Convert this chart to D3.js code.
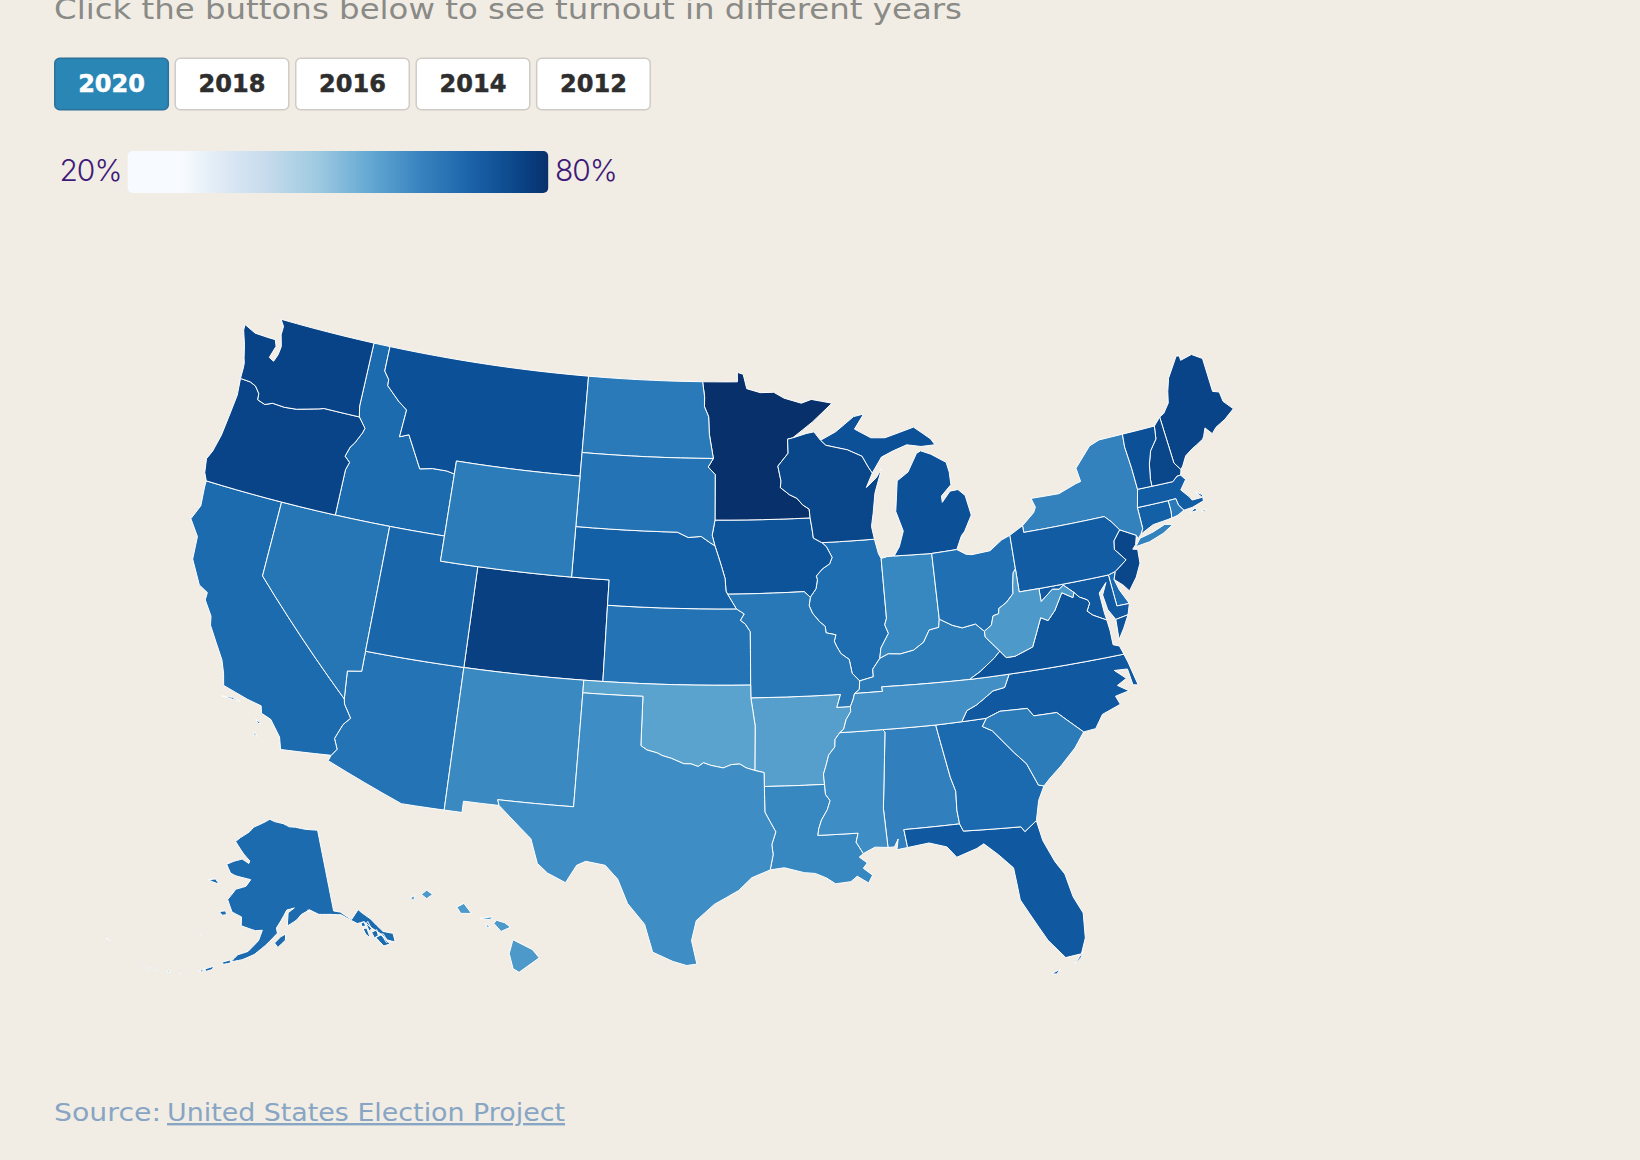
<!DOCTYPE html>
<html><head><meta charset="utf-8">
<script src="https://cdn.jsdelivr.net/npm/d3@7"></script>
<style>
html,body{margin:0;padding:0;background:#f1ede5;overflow:hidden}
svg{display:block}
</style></head><body>
<svg id="c" width="1640" height="1160"></svg>
<script>
// ---- text and categories ----
const years = ["2020","2018","2016","2014","2012"];
const legendLabels = ["20%","80%"];
const turnoutDomain = [20,80];
const legendStops = [[0,"#f7fbff"],[0.13,"#f7fbff"],[0.22,"#dfeaf5"],[0.33,"#c6dbec"],[0.45,"#9fcae1"],[0.57,"#66aad4"],[0.69,"#3a85c0"],[0.82,"#1a62a8"],[0.94,"#0a4285"],[1,"#08306b"]];

// ---- 2020 turnout (% of eligible voters) ----
const stateCodes = ["AL","AK","AZ","AR","CA","CO","CT","DE","DC","FL","GA","HI","ID","IL","IN","IA","KS","KY","LA","ME","MD","MA","MI","MN","MS","MO","MT","NE","NV","NH","NJ","NM","NY","NC","ND","OH","OK","OR","PA","RI","SC","SD","TN","TX","UT","VT","VA","WA","WV","WI","WY"];
const turnout2020 = [61.5,66.5,64.5,54,66.5,76.4,69,67,64,70.5,67,55.5,66.5,66,60,72,64.5,62.5,60,75.5,70.5,70,72.5,79.96,58.5,63.5,72.5,69,64,75,75,59.5,61,70.5,63,65.5,53,75.5,70,63,62.5,64.5,58,58.5,67.7,72.5,72,75.6,55.5,75,62.5];

// ---- shared borders: flat lon,lat lists ----
const COLUMBIA=[-118.98,46,-119.3,45.93,-120.5,45.7,-121.2,45.65,-121.9,45.68,-122.3,45.55,-122.76,45.65,-122.8,45.9,-123.1,46.15,-123.45,46.25,-124.05,46.27];
const SNAKE=[-117.03,43.83,-116.9,44.15,-117.22,44.35,-117.05,44.75,-116.85,44.95,-116.55,45.4,-116.47,45.6,-116.92,45.995];
const BITTERROOT=[-116.05,48,-115.72,47.7,-115.7,47.45,-114.9,46.93,-114.35,46.65,-114.45,45.55,-113.95,45.7,-113.45,45.05,-113,44.45,-112.3,44.55,-111.5,44.55,-111.05,44.48];
const RED_N=[-97.23,49,-97.1,48.4,-97.1,48,-96.85,47.6,-96.8,46.9,-96.56,45.94];
const SD_MN=[-96.56,45.94,-96.85,45.6,-96.45,45.3,-96.45,43.5];
const SD_IA=[-96.45,43.5,-96.6,42.9,-96.45,42.49];
const NE_SD=[-96.45,42.49,-96.7,42.6,-97.2,42.85,-97.9,42.8,-98.5,43];
const MO_NE_IA=[-96.45,42.49,-96.25,42.05,-96.1,41.7,-95.9,41.2,-95.85,40.7,-95.77,40.58];
const MO_NE=[-95.77,40.58,-95.31,40];
const MO_KS=[-95.31,40,-94.9,39.8,-95.1,39.55,-94.85,39.4,-94.6,39.1,-94.62,37];
const M_WI_MN=[-92.75,45,-92.8,44.75,-92.3,44.45,-91.9,44.3,-91.6,44.03,-91.25,43.85,-91.22,43.5];
const M_IA_WI=[-91.22,43.5,-91.15,43.1,-91.1,42.7,-90.65,42.5];
const M_IA_IL=[-90.65,42.5,-90.42,42.33,-90.15,41.9,-90.3,41.65,-90.7,41.47,-91.05,41.2,-91,41.05,-91.1,40.7,-91.42,40.38];
const M_MO_IL=[-91.42,40.38,-91.5,40.05,-91.35,39.75,-91,39.4,-90.72,39.2,-90.7,38.95,-90.2,38.85,-90.3,38.6,-90.2,38.4,-90,38.1,-89.6,37.85,-89.5,37.3,-89.15,36.98];
const M_MO_KY=[-89.15,36.98,-89.2,36.65,-89.45,36.5];
const M_MO_TN=[-89.45,36.5,-89.55,36.25,-89.7,36];
const M_AR_TN=[-89.7,36,-89.7,35.8,-89.95,35.5,-90.1,35.13,-90.3,35];
const M_AR_MS=[-90.3,35,-90.55,34.75,-90.58,34.45,-90.9,34.15,-91.05,33.75,-91.2,33.4,-91.17,33];
const M_LA_MS=[-91.17,33,-91.15,32.6,-90.95,32.35,-91.1,32,-91.4,31.6,-91.55,31.25,-91.6,31];
const O_WV_OH=[-80.52,40.64,-80.67,40.5,-80.8,40,-80.85,39.7,-81.25,39.4,-81.7,39.2,-81.75,39,-82.05,38.95,-82.2,38.6,-82.6,38.4];
const O_KY_OH=[-82.6,38.4,-82.85,38.6,-83,38.73,-83.7,38.65,-84.2,38.8,-84.82,39.1];
const O_KY_IN=[-84.82,39.1,-84.9,38.78,-85.4,38.72,-85.75,38.27,-86.3,38,-87,37.9,-87.6,37.95,-88.05,37.8];
const O_KY_IL=[-88.05,37.8,-88.45,37.4,-88.45,37.1,-89.15,36.98];
const WABASH=[-87.53,41.71,-87.53,39.35,-87.65,39.1,-87.5,38.75,-87.95,38.2,-88.05,37.8];
const RED_TX=[-94.48,33.64,-94.9,33.75,-95.2,33.9,-95.6,33.88,-96,33.75,-96.6,33.85,-96.95,33.95,-97.2,33.8,-97.55,33.9,-97.9,33.9,-98.5,34.1,-98.95,34.2,-99.2,34.3,-99.7,34.4,-100,34.56];
const SABINE=[-94.04,31.99,-93.8,31.6,-93.55,31.2,-93.75,30.7,-93.7,30.3,-93.85,29.7];
const CA_AZ=[-114.63,35,-114.57,34.8,-114.15,34.3,-114.45,34,-114.72,33.4,-114.5,33,-114.72,32.72];
const CHATT=[-85.6,34.98,-85.18,32.87,-85,32.3,-85.05,31.55,-85,31];
const SAVANNAH=[-83.1,35,-83.35,34.7,-82.9,34.48,-82,33.5,-81.5,33,-81.1,32.1,-80.85,32.03];
const GA_FL=[-85,31,-84.86,30.7,-82.2,30.57,-82.05,30.36,-81.45,30.72];
const NC_SC=[-83.1,35,-82.4,35.2,-81.05,35.15,-80.8,34.82,-79.67,34.8,-78.55,33.86];
const NC_TN=[-84.32,34.99,-84,35.4,-83.5,35.57,-83.1,35.77,-82.6,36.03,-82,36.1,-81.68,36.59];
const KY_VA=[-83.68,36.6,-83.1,36.85,-82.3,37.3,-81.97,37.54];
const KY_WV=[-81.97,37.54,-82.6,38.17,-82.6,38.4];
const VA_WV=[-81.97,37.54,-81.7,37.25,-81.25,37.25,-80.3,37.5,-79.65,38.58,-79.3,38.42,-78.87,38.76,-78.35,39.4,-77.83,39.13,-77.73,39.32];
const POTOMAC=[-76.35,38,-77,38.3,-77.25,38.5,-77.04,38.79,-77.12,38.93,-77.5,39.1,-77.73,39.32];
const MD_WV=[-77.73,39.32,-78.2,39.68,-78.45,39.55,-78.8,39.6,-79.48,39.2,-79.48,39.72];
const NJ_PA=[-74.7,41.36,-75.13,40.98,-75.2,40.65,-74.72,40.15,-75.4,39.8];
const NY_PA=[-79.76,42,-75.35,42,-75.05,41.75,-74.7,41.36];
const VT_NH=[-71.5,45.01,-71.6,44.5,-72.05,44.1,-72.3,43.6,-72.45,43,-72.46,42.73];
const NY_VT=[-73.35,45.01,-73.4,44.5,-73.3,43.6,-73.26,42.75];
const MI_WI=[-90.4,46.55,-90.12,46.34,-89.1,46.14,-88.9,46.1,-88.1,45.8,-87.8,45.35,-87.6,45.1];

// ---- states: flat lon,lat rings, built from the borders above ----
const rev = a => { const o=[]; for(let i=a.length-2;i>=0;i-=2) o.push(a[i],a[i+1]); return o; };
const WA=[[-122.76,49,-117.03,49,-117.04,46.42,-116.92,45.995,...COLUMBIA,-124.07,46.7,-124.1,46.9,-124.2,47.1,-124.4,47.6,-124.7,48.15,-124.72,48.38,-124,48.17,-123.2,48.15,-122.75,48.15,-122.6,47.9,-122.8,47.4,-122.5,47.3,-122.35,47.6,-122.3,47.95,-122.5,48.4,-122.5,48.75]];
const OR=[[...rev(COLUMBIA),-116.92,45.995,...rev(SNAKE),-117.03,42,-120,42,-124.21,42,-124.42,42.3,-124.55,42.84,-124.35,43.2,-124.15,43.9,-124.05,44.7,-123.95,45.6]];
const ID=[[-117.03,49,-116.05,49,...BITTERROOT,-111.05,42,-114.04,42,-117.03,42,...SNAKE,-117.04,46.42]];
const MT=[[-116.05,49,-104.05,49,-104.05,45.94,-104.05,45,-111.05,45,...rev(BITTERROOT)]];
const WY=[[-111.05,45,-104.05,45,-104.05,43,-104.05,41,-111.05,41]];
const ND=[[-104.05,49,...RED_N,-104.05,45.94]];
const SD=[[-104.05,45.94,...SD_MN,...SD_IA,...NE_SD,-104.05,43]];
const NE=[[-104.05,43,...rev(NE_SD),...MO_NE_IA,...MO_NE,-102.05,40,-102.05,41,-104.05,41]];
const KS=[[-102.05,40,...MO_KS,-102.04,37]];
const CO=[[-109.05,41,-104.05,41,-102.05,41,-102.05,40,-102.04,37,-103,37,-109.05,37]];
const UT=[[-114.04,42,-111.05,42,-111.05,41,-109.05,41,-109.05,37,-114.05,37]];
const NV=[[-120,42,-114.04,42,-114.05,37,-114.05,36.2,-114.75,36.1,-114.63,35,-120,39]];
const CA=[[-124.21,42,-120,42,-120,39,...CA_AZ,-117.12,32.53,-117.3,33,-117.9,33.6,-118.4,33.75,-118.5,34.03,-119.2,34.15,-120.5,34.45,-120.65,34.9,-120.9,35.4,-121.9,36.6,-122,36.95,-122.5,37.5,-122.5,37.8,-123,38,-123.7,38.9,-123.8,39.8,-124.4,40.4,-124.1,41,-124.2,41.75],
 [-120.45,34.03,-119.95,34.08,-119.55,34],[-118.6,33.48,-118.3,33.35,-118.45,33.33],[-118.55,32.98,-118.35,32.82,-118.5,32.85]];
const AZ=[[-114.05,37,-109.05,37,-109.05,31.33,-111.07,31.33,-114.81,32.49,...rev(CA_AZ),-114.75,36.1,-114.05,36.2]];
const NM=[[-109.05,37,-103,37,-103,36.5,-103.04,32,-106.62,32,-106.53,31.78,-108.21,31.78,-108.21,31.33,-109.05,31.33]];
const OK=[[-103,37,-94.62,37,-94.62,36.5,-94.43,35.4,...RED_TX,-100,36.5,-103,36.5]];
const TX=[[-103,36.5,-100,36.5,...rev(RED_TX),-94.04,33.55,-94.04,33,...SABINE,-94.7,29.4,-95.3,28.9,-96.4,28.35,-97.2,27.7,-97.4,26.9,-97.15,25.96,-97.6,25.9,-98.2,26.05,-99.1,26.4,-99.5,27.5,-100.3,28.3,-100.8,29.25,-101.4,29.77,-102.3,29.88,-102.7,29.7,-103.15,28.98,-104,29.3,-104.5,29.65,-104.9,30.6,-106,31.4,-106.53,31.78,-106.62,32,-103.04,32]];
const MN=[[...RED_N.slice(0,2),-95.15,49,-95.15,49.38,-94.8,49.3,-94.6,48.72,-93.8,48.55,-93,48.55,-92.4,48.3,-91.4,48.07,-90.8,48.2,-89.6,48,-90.8,47.3,-92,46.7,-92.29,46.66,-92.29,46.1,-92.9,45.6,...M_WI_MN,-96.45,43.5,...rev(SD_MN),...rev(RED_N).slice(2,-2)]];
const IA=[[-96.45,43.5,...M_IA_WI,...M_IA_IL,-91.73,40.61,-95.77,40.58,...rev(MO_NE_IA),...rev(SD_IA)]];
const MO=[[-95.77,40.58,-91.73,40.61,...M_MO_IL,...M_MO_KY,...M_MO_TN,-90.37,36,-90.15,36.5,-94.62,36.5,-94.62,37,...rev(MO_KS),...rev(MO_NE)]];
const AR=[[-94.62,36.5,-90.15,36.5,-90.37,36,...M_AR_TN,...M_AR_MS,-94.04,33,-94.04,33.55,-94.48,33.64,-94.43,35.4]];
const LA=[[-94.04,33,...M_LA_MS,-89.73,31,-89.85,30.65,-89.55,30.18,-89.75,30.05,-89.4,29.8,-89.6,29.6,-89.2,29.3,-89.4,29,-89.9,29.3,-90.2,29.1,-90.9,29.05,-91.3,29.3,-91.8,29.5,-92.3,29.55,-93.2,29.77,...rev(SABINE)]];
const MS=[[...M_AR_MS,...M_LA_MS,-89.73,31,-89.85,30.65,-89.55,30.18,-89,30.4,-88.4,30.35,-88.47,31.9,-88.1,34.9,-88.2,35]];
const AL=[[-88.2,35,...CHATT,-87.6,31,-87.5,30.28,-88,30.23,-87.9,30.65,-88.1,30.35,-88.4,30.35,-88.47,31.9,-88.1,34.9]];
const GA=[[...CHATT,-84.86,30.7,-82.2,30.57,-82.05,30.36,-81.45,30.72,-81.2,31.5,...rev(SAVANNAH)]];
const FL=[[-87.6,31,...GA_FL,-81.3,29.9,-80.9,29,-80.55,28.45,-80.35,27.5,-80.03,26.8,-80.12,25.8,-80.4,25.2,-81.1,25.15,-81.75,25.95,-82.05,26.5,-82.7,27.7,-82.75,28.4,-82.8,29,-83.4,29.6,-84,30.1,-84.35,29.95,-85.3,29.7,-85.7,30.15,-86.5,30.38,-87.5,30.28],
 [-81.8,24.6,-81.4,24.72,-81.6,24.55],[-80.75,24.85,-80.3,25.3,-80.45,25.05]];
const SC=[[...NC_SC,-79.1,33.3,-79.9,32.7,-80.5,32.3,...rev(SAVANNAH)]];
const NC=[[...NC_TN.slice(0,2),-83.1,35,...NC_SC.slice(2),-77.95,33.9,-77.5,34.4,-76.55,34.65,-76.7,35,-76,35.1,-76.5,35.4,-76,35.6,-76.5,36,-75.85,35.95,-75.75,35.3,-75.5,35.25,-75.75,36.2,-75.87,36.55,-81.68,36.59,...rev(NC_TN).slice(2,-2)]];
const TN=[[-90.3,35,-88.2,35,-85.6,34.98,-84.32,34.99,...NC_TN.slice(2),-83.68,36.6,-88.07,36.68,-88.05,36.5,-89.45,36.5,...M_MO_TN,...M_AR_TN]];
const KY=[[-89.45,36.5,-88.05,36.5,-88.07,36.68,...KY_VA,...KY_WV,...O_KY_OH,...O_KY_IN,...O_KY_IL,...M_MO_KY]];
const IL=[[...rev(M_IA_IL),-87.8,42.49,-87.65,41.9,...WABASH,...O_KY_IL,...rev(M_MO_IL)]];
const IN=[[-87.53,41.71,-87.2,41.76,-86.82,41.76,-84.81,41.7,...O_KY_IN,...rev(WABASH).slice(0,-2)]];
const OH=[[-84.81,41.7,-83.45,41.73,-83,41.5,-82.7,41.45,-81.7,41.5,-81,41.85,-80.52,41.98,...O_WV_OH,...O_KY_OH]];
const MI=[[-86.82,41.76,-86.5,42.1,-86.2,42.7,-86.5,43.5,-86.25,44.7,-85.6,45,-85,45.7,-84.75,45.78,-84.2,45.6,-83.4,45.2,-83.3,44.8,-83.3,44.3,-83.9,43.9,-83.9,43.65,-83.4,44.05,-82.95,44.07,-82.6,43.8,-82.42,43,-82.9,42.4,-83.1,42.25,-83.45,41.73,-84.81,41.7],
 [...MI_WI,-87,45.7,-86.3,45.9,-85.5,46.08,-84.7,45.95,-83.9,45.95,-84.1,46.2,-84.5,46.45,-85,46.75,-86.7,46.45,-87.5,46.5,-88.4,46.9,-87.8,47.47,-88.4,47.4,-89.5,46.85]];
const WI=[[-92.29,46.66,-92,46.7,-91.2,46.85,-90.75,46.9,...MI_WI,-88,44.55,-87.4,44.9,-87.05,45.25,-87.55,44.3,-87.75,43.5,-87.9,43,-87.8,42.49,...rev(M_IA_WI),...rev(M_WI_MN),-92.9,45.6,-92.29,46.1]];
const PA=[[-80.52,41.98,-79.76,42.27,...NY_PA,...NJ_PA,-75.79,39.72,-79.48,39.72,-80.52,39.72,-80.52,40.64]];
const NY=[[-79.76,42.27,-79.05,42.7,-78.9,42.9,-79.05,43.27,-77.5,43.25,-76.5,43.5,-76.2,43.55,-76.3,44.1,-75.3,44.85,-74.7,45,...NY_VT,-73.5,42.05,-73.49,41.2,-73.65,41,-73.85,40.85,-73.9,41,...rev(NY_PA)],
 [-74.03,40.6,-73.75,40.85,-73,40.97,-72.3,41.15,-71.87,41.07,-72.5,40.82,-73.3,40.63,-74.03,40.57]];
const NJ=[[-73.9,41,...NJ_PA,-75.55,39.5,-75.15,39.2,-74.9,38.93,-74.4,39.4,-74.05,39.9,-74,40.45,-74.25,40.5,-74.05,40.65]];
const DE=[[-75.79,39.72,-75.4,39.8,-75.55,39.5,-75.4,39.05,-75.05,38.45,-75.7,38.46]];
const MD=[[-79.48,39.72,-75.79,39.72,-75.7,38.46,-75.05,38.45,-75.24,38.03,-75.9,37.95,-76.2,38.4,-76.3,39,-76,39.45,-76.45,39.1,-76.4,38.3,...POTOMAC,...MD_WV.slice(2)]];
const DC=[[-77.12,38.93,-77.04,38.99,-76.91,38.89,-77.04,38.79]];
const VA=[[-83.68,36.6,-81.68,36.59,-75.87,36.55,-76,36.9,-76.3,37,-76.3,37.55,...POTOMAC,...rev(VA_WV),...rev(KY_VA).slice(2)],
 [-75.24,38.03,-75.9,37.95,-75.95,37.15,-75.6,37.55]];
const WV=[[-80.52,40.64,-80.52,39.72,-79.48,39.72,...rev(MD_WV).slice(2),...rev(VA_WV).slice(2),...KY_WV.slice(2),...rev(O_WV_OH).slice(2,-2)]];
const CT=[[-73.5,42.05,-71.8,42.02,-71.79,41.6,-71.85,41.32,-72.9,41.25,-73.65,41,-73.49,41.2]];
const RI=[[-71.8,42.02,-71.38,42.02,-71.33,41.75,-71.12,41.5,-71.5,41.37,-71.85,41.32,-71.79,41.6]];
const MA=[[-73.5,42.05,-73.26,42.75,-72.46,42.73,-71.3,42.7,-71,42.87,-70.8,42.87,-70.6,42.65,-71,42.3,-70.65,41.95,-70.55,41.8,-70,41.8,-70.25,42.07,-69.95,41.9,-69.98,41.65,-70.65,41.52,-71.12,41.5,-71.33,41.75,-71.38,42.02,-71.8,42.02],
 [-70.83,41.35,-70.5,41.47,-70.45,41.35],[-70.25,41.3,-69.97,41.3,-70.1,41.24]];
const VT=[[...NY_VT,...rev(VT_NH)]];
const NH=[[...VT_NH.slice(0,2),-71.08,45.3,-70.98,43.4,-70.7,43.07,-70.8,42.87,-71,42.87,-71.3,42.7,...rev(VT_NH).slice(0,-2)]];
const ME=[[-71.08,45.3,-70.8,45.4,-70.4,45.75,-70.25,46.2,-70,46.7,-69.23,47.46,-69.05,47.43,-69.05,47.25,-68.35,47.35,-67.8,47.07,-67.8,45.7,-67.45,45.6,-67.4,45.2,-66.97,44.8,-67.6,44.5,-67.9,44.4,-68.2,44.3,-68.5,44.1,-68.8,44.4,-69,44.1,-69.1,44,-69.5,43.85,-69.8,43.75,-70.25,43.55,-70.55,43.2,-70.7,43.07,-70.98,43.4]];
const AK=[[-156.6,71.35,-155,71.1,-152,70.85,-150,70.45,-148,70.35,-145,70,-141,69.65,-141,60.3,-139.5,60,-137.5,58.9,-135.5,59.8,-135,59.4,-133.5,58.4,-131.8,56.6,-130,56,-130.2,55,-131.5,55.5,-132.5,56.5,-134,57.5,-135,58.3,-136.5,58.3,-139.5,59.7,-142,60,-144.5,60.2,-146.5,60.85,-148.5,60.4,-149.7,59.8,-151.8,59.2,-151.5,60.7,-150,61.2,-151.8,61,-153.2,59.8,-154.2,59,-154,58.4,-156.5,57,-158.7,55.9,-161,55.2,-163.2,54.8,-162,55.7,-160,56.2,-158,57.5,-157.3,58.7,-158.8,58.6,-162,59,-162.2,60,-164.5,60.4,-165.3,61.1,-166,61.7,-164.8,62.7,-164.5,63,-162,63.5,-161,64.3,-162.8,64.4,-165,64.5,-166.5,64.7,-168,65.6,-166.2,66.1,-164,66.5,-162,66.1,-161.8,66.4,-163.8,67.1,-166.8,68.35,-165.5,68.9,-163,69.7,-161.8,70.3,-159,70.85],
 [-154.6,57.3,-153.3,58,-152.2,58.3,-152.3,57.6,-153.9,56.8],[-171.7,63.4,-170,63.7,-168.8,63.2,-170.5,63.3],[-167.4,60.2,-166,60.4,-165.6,60,-166.6,59.85],
 [-164.9,54.6,-163.4,55,-163.1,54.7,-164.5,54.4],[-167.9,53.5,-166.3,54,-166.5,53.6,-167.6,53.25],[-169,53.1,-167.9,53.5,-168.4,53.1],[-174.6,52.2,-173.9,52.2,-174.4,52],[-177,51.95,-176.4,51.9,-176.8,51.7],[-178.2,51.9,-177.6,51.9,-177.9,51.7],[-170.4,57.2,-170.1,57.25,-170.2,57.1],[-146.9,60.85,-146.3,60.7,-146.7,60.6],
 [173,52.95,173.4,52.85,172.6,52.8],[-172.5,52.35,-172.1,52.3,-172.4,52.2],[-179.2,51.9,-178.8,51.85,-179.1,51.7],
 [-135.7,58.2,-135,58.3,-134.9,57.8,-135.7,57.8],[-135.6,57.6,-134.8,57.5,-134.7,56.3,-135.4,56.9],[-134.7,58,-134.2,58.2,-133.9,57.3,-134.5,57.1],[-134.1,56.9,-132.9,57,-133,56.3,-133.9,56.2],[-133.6,56.2,-132.4,56.3,-131.3,55,-132.6,55],[-132.3,56.4,-131.9,56.3,-131.6,55.3,-131.9,55.3]];
const HI=[[-155.9,20.25,-155.08,19.85,-154.8,19.52,-155.65,18.95,-155.9,19.1,-156.06,19.7],[-156.7,20.9,-156.6,21.03,-156.25,20.93,-156,20.75,-156.4,20.58],[-157.3,21.1,-156.75,21.17,-156.87,21.05],[-157.05,20.9,-156.85,20.75,-157,20.75],[-158.27,21.55,-157.97,21.7,-157.65,21.3,-158.1,21.3],[-159.78,22.05,-159.55,22.22,-159.3,22.05,-159.55,21.88],[-160.25,21.9,-160.05,22,-160.1,21.8]];
const stateRings = {AL,AK,AZ,AR,CA,CO,CT,DE,DC,FL,GA,HI,ID,IL,IN,IA,KS,KY,LA,ME,MD,MA,MI,MN,MS,MO,MT,NE,NV,NH,NJ,NM,NY,NC,ND,OH,OK,OR,PA,RI,SC,SD,TN,TX,UT,VT,VA,WA,WV,WI,WY};

// ---- build GeoJSON ----
function toRing(flat){
  const pts=[]; for(let i=0;i<flat.length;i+=2) pts.push([flat[i],flat[i+1]]);
  const out=[];
  for(let i=0;i<pts.length;i++){
    const a=pts[i], b=pts[(i+1)%pts.length];
    const n=Math.max(1,Math.ceil(Math.max(Math.abs(b[0]-a[0]),Math.abs(b[1]-a[1]))));
    for(let k=0;k<n;k++) out.push([a[0]+(b[0]-a[0])*k/n,a[1]+(b[1]-a[1])*k/n]);
  }
  out.push(out[0].slice());
  if(d3.geoArea({type:"Polygon",coordinates:[out]})>2*Math.PI) out.reverse();
  return out;
}
const features = stateCodes.map((code,i)=>({type:"Feature",properties:{code,value:turnout2020[i]},
  geometry:{type:"MultiPolygon",coordinates:stateRings[code].map(f=>[toRing(f)])}}));

// ---- draw ----
const svg=d3.select("#c");
const color=d3.scaleSequential(d3.interpolateBlues).domain(turnoutDomain);
const projection=d3.geoAlbersUsa().scale(1444).translate([711.5,642]);
const path=d3.geoPath(projection);

const HEAD="'DejaVu Sans',sans-serif";
svg.append("text").attr("x",54).attr("y",19).attr("font-family",HEAD).attr("font-size",28).attr("fill","#8a8a86")
  .attr("textLength",908).attr("lengthAdjust","spacingAndGlyphs").text("Click the buttons below to see turnout in different years");

const btn=d3.scaleBand().domain(years).range([54,651]).paddingInner(0.045).paddingOuter(0);
const bg=svg.append("g").selectAll("g").data(years).join("g").attr("transform",d=>`translate(${btn(d)},57.5)`);
bg.append("rect").attr("x",.75).attr("y",.75).attr("width",btn.bandwidth()-1.5).attr("height",51.5).attr("rx",5)
  .attr("fill",(d,i)=>i?"#ffffff":"#2a86b5").attr("stroke",(d,i)=>i?"#cfccc6":"#2b7199").attr("stroke-width",1.5);
bg.append("text").attr("x",btn.bandwidth()/2).attr("y",34).attr("text-anchor","middle").attr("font-family","'DejaVu Sans',sans-serif")
  .attr("font-weight",700).attr("font-size",24).attr("stroke",(d,i)=>i?"#2e2e2e":"#ffffff").attr("stroke-width",.5).attr("fill",(d,i)=>i?"#2e2e2e":"#ffffff").text(d=>d);

const defs=svg.append("defs");
const lg=defs.append("linearGradient").attr("id","lg");
lg.selectAll("stop").data(legendStops).join("stop").attr("offset",d=>d[0]).attr("stop-color",d=>d[1]);
svg.append("rect").attr("x",127.7).attr("y",151).attr("width",420.5).attr("height",42).attr("rx",5).attr("fill","url(#lg)");
svg.append("text").attr("x",121.5).attr("y",181).attr("text-anchor","end").attr("font-family","Inter,sans-serif").attr("font-weight",300).attr("font-size",30).attr("letter-spacing",-1).attr("fill","#3f1a78").text(legendLabels[0]);
svg.append("text").attr("x",555).attr("y",181).attr("font-family","Inter,sans-serif").attr("font-weight",300).attr("font-size",30).attr("letter-spacing",-1).attr("fill","#3f1a78").text(legendLabels[1]);

svg.append("g").selectAll("path").data(features).join("path")
  .attr("d",path).attr("fill",d=>color(d.properties.value)).attr("stroke","#fff").attr("stroke-width",1).attr("stroke-linejoin","round");

const src=svg.append("text").attr("y",1121).attr("font-family",HEAD).attr("font-size",24).attr("fill","#88a5c3");
src.append("tspan").attr("x",54).attr("textLength",107).attr("lengthAdjust","spacingAndGlyphs").text("Source:");
src.append("tspan").attr("x",167).attr("text-decoration","underline").attr("textLength",398).attr("lengthAdjust","spacingAndGlyphs").text("United States Election Project");
</script>
</body></html>
